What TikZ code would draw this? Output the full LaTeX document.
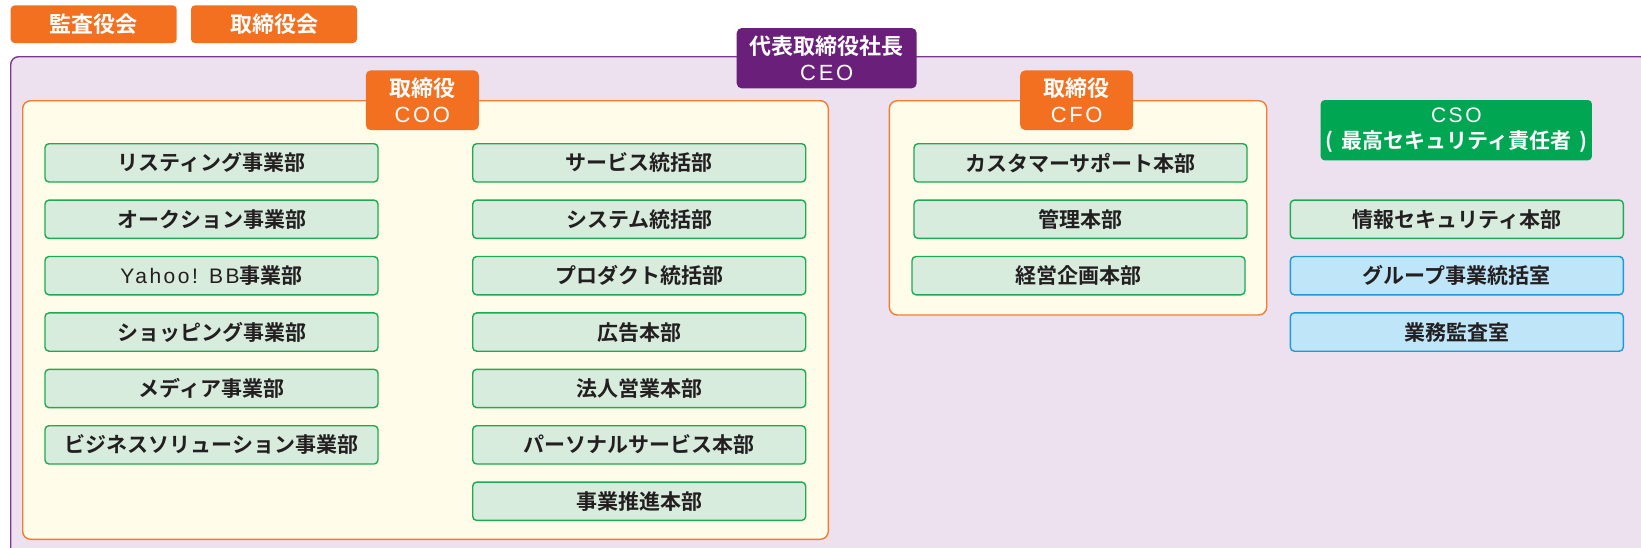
\documentclass[tikz,border=0pt]{standalone}
\usepackage{fontspec}
\setmainfont{Noto Sans CJK JP}[BoldFont={Noto Sans CJK JP Bold}]
\newfontfamily\latsp{Liberation Sans}[LetterSpace=12]
\definecolor{orangeC}{RGB}{243,112,33}
\definecolor{ceoC}{RGB}{106,31,122}
\definecolor{lavC}{RGB}{237,225,240}
\definecolor{outerC}{RGB}{125,55,145}
\definecolor{yelC}{RGB}{255,253,233}
\definecolor{yelB}{RGB}{242,125,50}
\definecolor{deptF}{RGB}{216,236,222}
\definecolor{deptB}{RGB}{30,170,80}
\definecolor{csoC}{RGB}{0,166,81}
\definecolor{blueF}{RGB}{190,229,248}
\definecolor{blueB}{RGB}{30,155,215}
\definecolor{txtC}{RGB}{35,31,32}
\begin{document}
\begin{tikzpicture}[x=1pt,y=-1pt,
  dept/.style={draw=deptB, fill=deptF, line width=1.4pt, rounded corners=4pt,
    minimum width=333pt, minimum height=38.3pt, inner sep=0pt,
    font=\fontsize{21}{24}\selectfont\bfseries, text=txtC},
  bluedept/.style={dept, draw=blueB, fill=blueF},
  orlabel/.style={fill=orangeC, rounded corners=5pt, minimum width=113pt,
    minimum height=59.7pt, inner sep=0pt, text=white, align=center,
    font=\fontsize{22}{26}\selectfont\bfseries},
  topbox/.style={fill=orangeC, rounded corners=4pt, minimum width=166pt,
    minimum height=37.7pt, inner sep=0pt, text=white,
    font=\fontsize{22}{26}\selectfont\bfseries},
  panel/.style={draw=yelB, fill=yelC, line width=1.4pt, rounded corners=8pt}
]
\useasboundingbox (0,0) rectangle (1641,547);
\clip (0,0) rectangle (1641,547);
\fill[white] (0,0) rectangle (1641,547);
% outer purple area
\draw[draw=outerC, fill=lavC, line width=1.4pt, rounded corners=8pt] (10.7,56.7) rectangle (1700,600);
% top boxes
\node[topbox] (kansa) at (93.7,24.2) {監査役会};
\node[topbox] (torikai) at (274,24.2) {取締役会};
% panels
\draw[panel] (22.7,100.7) rectangle (828.3,539.3);
\draw[panel] (889.3,100.7) rectangle (1266.7,315);
% CEO
\node[fill=ceoC, rounded corners=5pt, minimum width=180pt, minimum height=60.3pt,
  inner sep=0pt, text=white, align=center, font=\fontsize{22}{26}\selectfont\bfseries]
  (ceo) at (826.7,58.2) {代表取締役社長\\{\latsp\mdseries CEO}};
% labels
\node[orlabel] (coo) at (422.3,100.2) {取締役\\{\latsp\mdseries COO}};
\node[orlabel] (cfo) at (1076.7,100.2) {取締役\\{\latsp\mdseries CFO}};
\node[fill=csoC, rounded corners=4pt, minimum width=271.3pt, minimum height=60.3pt,
  inner sep=0pt, text=white, align=center, font=\fontsize{21}{26}\selectfont\bfseries]
  (cso) at (1456.3,130.2) {{\latsp\mdseries CSO}\\(\hspace{8pt}最高セキュリティ責任者\hspace{8pt})};
% COO left column
\node[dept] (l1) at (211.5,162.85) {リスティング事業部};
\node[dept] (l2) at (211.5,219.25) {オークション事業部};
\node[dept] (l3) at (211.5,275.65) {{\latsp\mdseries Yahoo! BB}事業部};
\node[dept] (l4) at (211.5,332.05) {ショッピング事業部};
\node[dept] (l5) at (211.5,388.45) {メディア事業部};
\node[dept] (l6) at (211.5,444.85) {ビジネスソリューション事業部};
% COO right column
\node[dept] (r1) at (639.2,162.85) {サービス統括部};
\node[dept] (r2) at (639.2,219.25) {システム統括部};
\node[dept] (r3) at (639.2,275.65) {プロダクト統括部};
\node[dept] (r4) at (639.2,332.05) {広告本部};
\node[dept] (r5) at (639.2,388.45) {法人営業本部};
\node[dept] (r6) at (639.2,444.85) {パーソナルサービス本部};
\node[dept] (r7) at (639.2,501.25) {事業推進本部};
% CFO column
\node[dept] (f1) at (1080.5,162.85) {カスタマーサポート本部};
\node[dept] (f2) at (1080.5,219.25) {管理本部};
\node[dept] (f3) at (1078.5,275.65) {経営企画本部};
% CSO column
\node[dept] (s1) at (1456.8,219.25) {情報セキュリティ本部};
\node[bluedept] (s2) at (1456.8,275.65) {グループ事業統括室};
\node[bluedept] (s3) at (1456.8,332.05) {業務監査室};
\end{tikzpicture}
\end{document}
